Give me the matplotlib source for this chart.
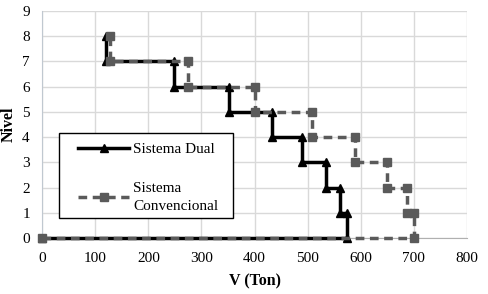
import matplotlib
matplotlib.use("Agg")
import matplotlib.pyplot as plt
from matplotlib.patches import Rectangle

plt.rcParams['font.family'] = ['Liberation Serif', 'DejaVu Serif']

# story shear per level (level 1..8)
niveles = [1, 2, 3, 4, 5, 6, 7, 8]
v_dual = [574, 562, 535, 490, 433, 351, 249, 120]
v_conv = [700, 687, 650, 590, 508, 400, 274, 128]


def escalones(v, niv):
    # step path: (0,0) -> (v1,0) -> (v1,1) -> (v2,1) -> (v2,2) ...
    xs, ys = [0], [0]
    prev = 0
    for vi, n in zip(v, niv):
        xs += [vi, vi]
        ys += [prev, n]
        prev = n
    return xs, ys


xd, yd = escalones(v_dual, niveles)
xc, yc = escalones(v_conv, niveles)

fig = plt.figure(figsize=(4.88, 2.94), dpi=100)
ax = fig.add_axes([0.0867, 0.19, 0.8697, 0.7735])

ax.plot(xd, yd, color='black', lw=2.5, marker='^', ms=5.5, label='Sistema Dual',
        zorder=3, clip_on=False)
ax.plot(xc, yc, color='#5a5a5a', lw=2.5, ls=(0, (2.5, 1.6)), marker='s', ms=5.5,
        label='Sistema\nConvencional', zorder=4, clip_on=False)

ax.set_xlim(0, 800)
ax.set_ylim(0, 9)
ax.set_xticks(range(0, 801, 100))
ax.set_yticks(range(0, 10))
ax.grid(True, color='#d9d9d9', lw=1)
ax.set_axisbelow(True)
for s in ['top', 'right']:
    ax.spines[s].set_visible(False)
ax.spines['left'].set_color('#c0c8d0')
ax.spines['bottom'].set_color('#b0b0b0')
ax.tick_params(length=0, labelsize=11)
ax.tick_params(axis='x', pad=10)
ax.tick_params(axis='y', pad=9)

ax.set_xlabel('V (Ton)', fontsize=11.5, fontweight='bold', labelpad=6)
ax.set_ylabel('Nivel', fontsize=11.5, fontweight='bold', labelpad=4)

# legend box drawn separately so the inner padding matches
ax.add_patch(Rectangle((0.04, 0.089), 0.41, 0.373, transform=ax.transAxes,
                       facecolor='white', edgecolor='black', lw=1, zorder=5))
leg = ax.legend(loc='upper left', bbox_to_anchor=(0.085, 0.42), frameon=False,
                borderaxespad=0, borderpad=0, fontsize=11,
                handlelength=3.3, labelspacing=1.7, handletextpad=0.3)
leg.get_texts()[1].set_linespacing(1.5)
leg.set_zorder(6)

fig.savefig('out.png', dpi=100)
